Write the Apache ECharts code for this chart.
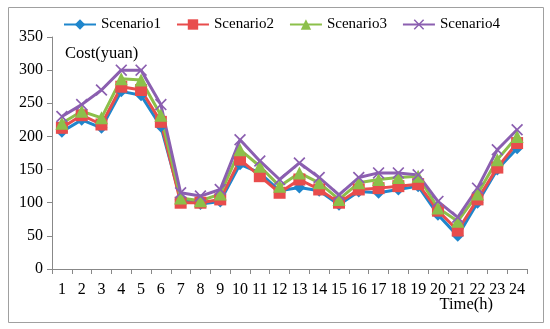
<!DOCTYPE html>
<html><head><meta charset="utf-8">
<script src="https://cdn.jsdelivr.net/npm/echarts@6/dist/echarts.min.js"></script>
<style>html,body{margin:0;padding:0;background:#fff}#c{width:550px;height:329px}</style>
</head><body><div id="c"></div>
<script>
const categories = ['1','2','3','4','5','6','7','8','9','10','11','12','13','14','15','16','17','18','19','20','21','22','23','24'];
const scenario1 = [207,225,213,268,262,215,105,98,102,158,145,118,123,118,97,117,115,120,125,82,50,100,150,182];
const scenario2 = [213,232,218,275,270,222,100,100,105,165,140,115,135,120,100,120,122,125,128,88,58,105,153,190];
const scenario3 = [220,238,228,287,285,232,107,103,113,180,155,125,145,130,105,130,135,138,140,92,72,113,165,200];
const scenario4 = [230,248,270,300,300,248,115,110,120,195,163,135,160,138,112,138,145,145,142,102,78,122,180,210];
const yTicks = [0,50,100,150,200,250,300,350];
const xTitle = 'Time(h)';
const yTitle = 'Cost(yuan)';

const font = 'Liberation Serif';
const xSym = 'path://M0,1L1,0L5,4L9,0L10,1L6,5L10,9L9,10L5,6L1,10L0,9L4,5Z';
function mk(name, data, color, symbol, size){
  return {name, type:'line', data, symbol, symbolSize:size, showAllSymbol:true,
    lineStyle:{color, width:3}, itemStyle:{color}, z: 2};
}
const chart = echarts.init(document.getElementById('c'));
chart.setOption({
  animation:false,
  textStyle:{fontFamily:font},
  graphic:[
    {type:'rect', shape:{x:8.5,y:7.5,width:535,height:315}, style:{fill:'none', stroke:'#a0a0a0', lineWidth:1}, silent:true},
    {type:'text', right:57, top:296, style:{text:xTitle, font:'16.5px "Liberation Serif"', fill:'#000'}}
  ],
  legend:{top:12, left:58, itemWidth:32, itemHeight:13, itemGap:15,
    textStyle:{fontFamily:font, fontSize:15, color:'#000'}},
  grid:{left:52, right:23, top:37, bottom:60, containLabel:false, outerBoundsMode:'none'},
  xAxis:{type:'category', data:categories, boundaryGap:true,
    axisLine:{lineStyle:{color:'#888'}},
    axisTick:{show:true, inside:false, length:5, interval:0, lineStyle:{color:'#888'}},
    axisLabel:{interval:0, color:'#000', fontFamily:font, fontSize:16, margin:13}
  },
  yAxis:{type:'value', min:0, max:350, interval:50,
    axisLine:{show:true, lineStyle:{color:'#888'}},
    axisTick:{show:true, length:5, lineStyle:{color:'#888'}},
    splitLine:{show:false},
    axisLabel:{color:'#000', fontFamily:font, fontSize:16, margin:9,
      formatter:v=>yTicks.includes(v)?String(v):''},
    name:yTitle, nameLocation:'end', nameGap:0,
    nameTextStyle:{fontFamily:font, fontSize:16.5, color:'#000', align:'left', verticalAlign:'top', padding:[8,0,0,13]}
  },
  series:[
    mk('Scenario1', scenario1, '#1f86cc', 'diamond', 12),
    mk('Scenario2', scenario2, '#e84c4c', 'rect', 12),
    mk('Scenario3', scenario3, '#8cc04a', 'triangle', 13),
    mk('Scenario4', scenario4, '#8b5fb0', xSym, 12)
  ]
});
</script></body></html>
